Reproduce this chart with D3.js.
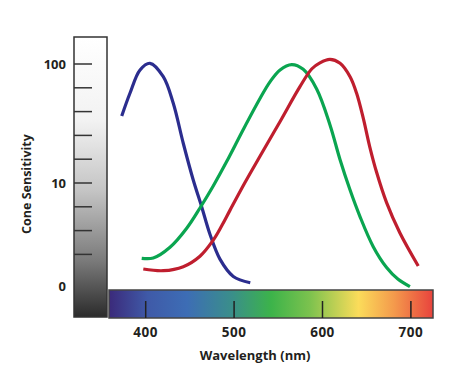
<!DOCTYPE html>
<html><head><meta charset="utf-8">
<script src="https://cdn.jsdelivr.net/npm/d3@7"></script>
<style>html,body{margin:0;padding:0;background:#fff;}svg{display:block;}</style>
</head><body><div id="chart"></div>
<script>
// Data: wavelength (nm) and log10 cone sensitivity
const blueCone = [[372.9,1.563],[382.2,1.754],[393.6,1.950],[404.9,2.006],[419.9,1.893],[431.2,1.670],[442.5,1.334],[453.8,1.025],[463.3,0.801],[472.7,0.570],[484.0,0.360],[499.1,0.215],[518.3,0.162]];
const greenCone = [[395.5,0.367],[408.6,0.370],[427.5,0.460],[446.4,0.620],[461.4,0.790],[476.4,0.975],[491.6,1.180],[510.4,1.450],[529.3,1.710],[540.6,1.850],[552.0,1.950],[565.1,1.995],[578.2,1.955],[593.4,1.790],[608.4,1.490],[619.7,1.200],[631.0,0.945],[642.3,0.720],[657.4,0.465],[672.5,0.290],[685.2,0.193],[698.9,0.129]];
const redCone = [[397.3,0.277],[419.9,0.263],[442.5,0.297],[461.4,0.385],[476.4,0.520],[486.0,0.640],[495.3,0.770],[512.0,1.000],[529.3,1.225],[551.9,1.515],[574.5,1.810],[588.0,1.960],[597.1,2.010],[608.4,2.039],[619.9,2.006],[631.2,1.893],[638.6,1.754],[646.1,1.545],[653.6,1.300],[661.2,1.090],[672.5,0.835],[687.6,0.580],[708.3,0.303]];
const xTicks = [400, 500, 600, 700];
const yMinorTicks = [2.0, 1.8, 1.6, 1.4, 1.2, 1.0, 0.8, 0.6, 0.4];
const yLabels = [{text:"100", v:2}, {text:"10", v:1}, {text:"0", v:0.13}];
const spectrumStops = [[0,"#3b2a7a"],[0.12,"#3f5aa8"],[0.24,"#3d6db5"],[0.38,"#3a8f8a"],[0.5,"#3cb34a"],[0.62,"#7cc24e"],[0.77,"#fbdc5a"],[0.88,"#f49a4c"],[1,"#e8433d"]];

const W = 457, H = 376;
const svg = d3.select("#chart").append("svg").attr("width", W).attr("height", H);
const defs = svg.append("defs");

const x = d3.scaleLinear().domain([358.5, 725]).range([109, 433]);
const y = d3.scaleLinear().domain([0, 2]).range([302, 64]);
const FONT = "Open Sans";

// gray bar gradient
const gg = defs.append("linearGradient").attr("id","gray").attr("x1",0).attr("y1",0).attr("x2",0).attr("y2",1);
[[0,"#ffffff"],[0.3,"#f2f2f2"],[0.55,"#c4c4c4"],[0.8,"#7a7a7a"],[1,"#2b2b2b"]].forEach(s=>gg.append("stop").attr("offset",s[0]).attr("stop-color",s[1]));
svg.append("rect").attr("x",74).attr("y",37).attr("width",33).attr("height",280)
  .attr("fill","url(#gray)").attr("stroke","#333").attr("stroke-width",1.5);

// y ticks
svg.append("g").selectAll("line").data(yMinorTicks).join("line")
  .attr("x1",74).attr("x2",92).attr("y1",d=>y(d)).attr("y2",d=>y(d))
  .attr("stroke","#333").attr("stroke-width",1.5);
svg.append("g").selectAll("text").data(yLabels).join("text")
  .attr("x",66).attr("y",d=>y(d.v)).attr("dy","0.36em").attr("text-anchor","end")
  .attr("font-family",FONT).attr("font-weight",700).attr("font-size",13).attr("fill","#231f20")
  .text(d=>d.text);
svg.append("text").attr("transform","translate(31,184) rotate(-90)").attr("text-anchor","middle")
  .attr("font-family",FONT).attr("font-weight",700).attr("font-size",12.5).attr("fill","#231f20")
  .text("Cone Sensitivity");

// spectrum bar
const sg = defs.append("linearGradient").attr("id","spec").attr("x1",0).attr("y1",0).attr("x2",1).attr("y2",0);
spectrumStops.forEach(s=>sg.append("stop").attr("offset",s[0]).attr("stop-color",s[1]));
svg.append("rect").attr("x",x(358.5)).attr("y",290).attr("width",x(725)-x(358.5)).attr("height",28)
  .attr("fill","url(#spec)").attr("stroke","#444").attr("stroke-width",1.5);
svg.append("g").selectAll("line").data(xTicks).join("line")
  .attr("x1",d=>x(d)).attr("x2",d=>x(d)).attr("y1",301).attr("y2",318)
  .attr("stroke","#222").attr("stroke-width",1.5);
svg.append("g").selectAll("text").data(xTicks).join("text")
  .attr("x",d=>x(d)).attr("y",337).attr("text-anchor","middle")
  .attr("font-family",FONT).attr("font-weight",700).attr("font-size",13.5).attr("letter-spacing",0.5).attr("fill","#231f20")
  .text(d=>d);
svg.append("text").attr("x",255).attr("y",360).attr("text-anchor","middle")
  .attr("font-family",FONT).attr("font-weight",700).attr("font-size",13).attr("fill","#231f20")
  .text("Wavelength (nm)");

// curves
const line = d3.line().x(d=>x(d[0])).y(d=>y(d[1])).curve(d3.curveCatmullRom.alpha(0.5));
[[blueCone,"#2b2d8e"],[greenCone,"#0aa550"],[redCone,"#bf1e2e"]].forEach(([data,c])=>{
  svg.append("path").datum(data).attr("d",line).attr("fill","none").attr("stroke",c).attr("stroke-width",3.2);
});
</script></body></html>
